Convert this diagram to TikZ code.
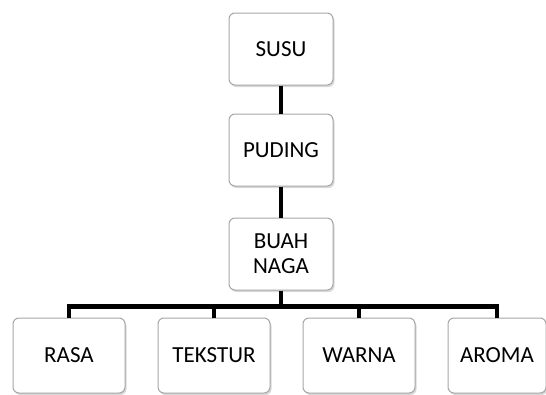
\documentclass[tikz,border=0pt]{standalone}
\usepackage{fontspec}
\setmainfont{Carlito}
\usetikzlibrary{positioning, shadows}
\tikzstyle{box} = [
    rectangle, rounded corners=6pt,
    minimum width=104pt, minimum height=72pt,
    align=center, font=\fontsize{23}{25}\selectfont,
    draw=black!35, line width=1pt, fill=white,
    drop shadow={shadow xshift=1.5pt, shadow yshift=-2pt, opacity=0.3}
]
\tikzstyle{leaf} = [box, minimum width=112pt, minimum height=75pt]
\tikzstyle{link} = [line width=4.5pt, black]

\begin{document}
\begin{tikzpicture}[x=1pt, y=1pt, node distance=30pt]
        \useasboundingbox (0,0) rectangle (546,-394);
        % Draw blocks
        \node (susu) [box] at (281,-49) {SUSU};
        \node (puding) [box, below=28pt of susu] {PUDING};
        \node (buah) [box, below=31pt of puding] {BUAH\\NAGA};
        \node (rasa) [leaf] at (69,-355.5) {RASA};
        \node (tekstur) [leaf, right=32pt of rasa] {TEKSTUR};
        \node (warna) [leaf, right=32pt of tekstur] {WARNA};
        \node (aroma) [leaf, right=32pt of warna, minimum width=98pt] {AROMA};
        \coordinate (bus) at ([yshift=-16pt]buah.south);

        % Draw links
        \draw [link] (susu) -- (puding);
        \draw [link] (puding) -- (buah);
        \draw [link] (buah) -- (bus);
        \draw [link] (rasa.north) |- (bus) -| (aroma.north);
        \draw [link] (tekstur.north) -- (tekstur.north |- bus);
        \draw [link] (warna.north) -- (warna.north |- bus);
    \end{tikzpicture}
\end{document}
